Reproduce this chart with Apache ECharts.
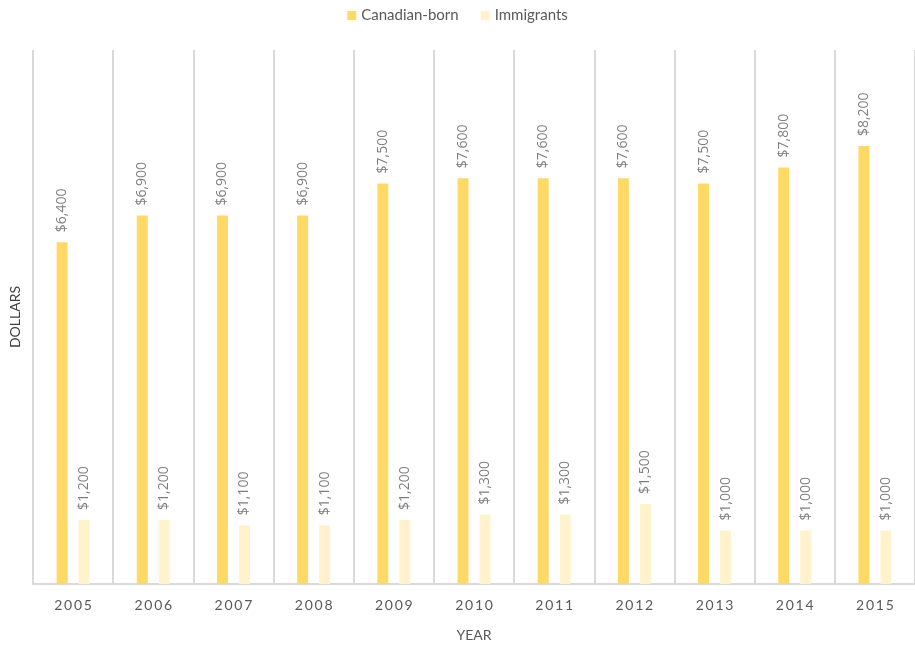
<!DOCTYPE html>
<html>
<head>
<meta charset="utf-8">
<script src="https://cdn.jsdelivr.net/npm/echarts@6/dist/echarts.min.js"></script>
<style>
  html, body { margin: 0; padding: 0; background: #fff; }
  #chart { width: 915px; height: 647px; }
</style>
</head>
<body>
<div id="chart"></div>
<script>
//--------------------- Data ---------------------------//
const years = ['2005', '2006', '2007', '2008', '2009', '2010', '2011', '2012', '2013', '2014', '2015'];
const canadianBorn = [6400, 6900, 6900, 6900, 7500, 7600, 7600, 7600, 7500, 7800, 8200];
const immigrants = [1200, 1200, 1100, 1100, 1200, 1300, 1300, 1500, 1000, 1000, 1000];

//--------------------- Helpers ---------------------------//
// Format a value as $x,xxx
function dollars(v) {
  return '$' + v.toLocaleString('en-US');
}

const labelStyle = {
  show: true,
  position: 'top',
  rotate: 90,
  align: 'left',
  verticalAlign: 'middle',
  distance: 10,
  color: '#7f7f7f',
  fontSize: 14,
  fontFamily: 'Open Sans',
  formatter: (p) => dollars(p.value)
};

//--------------------- Chart ---------------------------//
const chart = echarts.init(document.getElementById('chart'));

const option = {
  animation: false,
  textStyle: { fontFamily: 'Lato' },
  legend: {
    top: 3,
    left: 'center',
    itemWidth: 9,
    itemHeight: 9,
    itemGap: 22,
    icon: 'rect',
    textStyle: { color: '#595959', fontSize: 15, fontFamily: 'Lato' },
    data: ['Canadian-born', 'Immigrants']
  },
  grid: { left: 31, top: 50, width: 893, bottom: 58, containLabel: false },
  xAxis: {
    type: 'category',
    data: years,
    name: 'YEAR',
    nameLocation: 'middle',
    nameGap: 44,
    nameTextStyle: { color: '#595959', fontSize: 14 },
    axisLine: { lineStyle: { color: '#d9d9d9', width: 2 } },
    axisTick: { show: false },
    splitLine: { show: true, lineStyle: { color: '#d9d9d9', width: 2 } },
    axisLabel: {
      color: '#595959',
      fontSize: 14,
      margin: 14,
      formatter: (v) => v.split('').join('\u2009')
    }
  },
  yAxis: {
    type: 'value',
    min: 0,
    max: 10000,
    name: 'DOLLARS',
    nameLocation: 'middle',
    nameGap: 11,
    nameRotate: 90,
    nameTextStyle: { color: '#404040', fontSize: 14 },
    axisLine: { show: false },
    axisTick: { show: false },
    axisLabel: { show: false },
    splitLine: { show: false }
  },
  series: [
    {
      name: 'Canadian-born',
      type: 'bar',
      data: canadianBorn,
      barWidth: 11,
      barGap: '100%',
      itemStyle: { color: '#ffd966' },
      label: labelStyle
    },
    {
      name: 'Immigrants',
      type: 'bar',
      data: immigrants,
      barWidth: 11,
      itemStyle: { color: '#fff2cc' },
      label: labelStyle
    }
  ]
};

chart.setOption(option);
</script>
</body>
</html>
